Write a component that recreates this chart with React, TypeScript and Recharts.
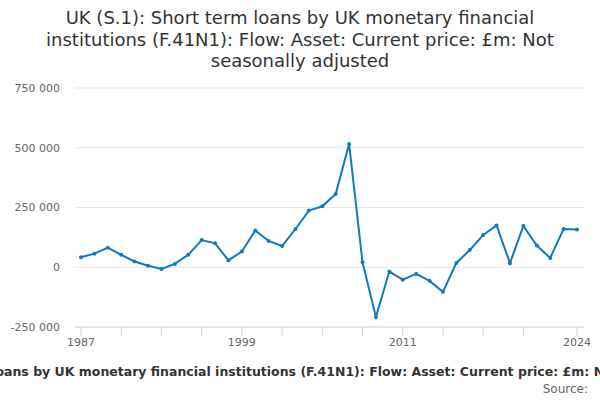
import React from "react";
import {
  LineChart,
  Line,
  XAxis,
  YAxis,
  CartesianGrid,
} from "recharts";

const years = [
  1987, 1988, 1989, 1990, 1991, 1992, 1993, 1994, 1995, 1996, 1997, 1998, 1999,
  2000, 2001, 2002, 2003, 2004, 2005, 2006, 2007, 2008, 2009, 2010, 2011, 2012,
  2013, 2014, 2015, 2016, 2017, 2018, 2019, 2020, 2021, 2022, 2023, 2024,
];

const loans = [
  42000, 57000, 82000, 52000, 24000, 6000, -7000, 14000, 52000, 114000, 100000,
  29000, 66000, 154000, 110000, 89000, 160000, 237000, 255000, 307000, 516000,
  21000, -208000, -18000, -52000, -28000, -57000, -103000, 18000, 72000, 135000,
  175000, 17000, 173000, 91000, 39000, 160000, 158000,
];

const xTicks = [
  1987, 1990, 1993, 1996, 1999, 2002, 2005, 2008, 2011, 2014, 2017, 2020, 2024,
];
const xLabels = [1987, 1999, 2011, 2024];
const yTicks = [-250000, 0, 250000, 500000, 750000];

const title =
  "UK (S.1): Short term loans by UK monetary financial institutions (F.41N1): Flow: Asset: Current price: £m: Not seasonally adjusted";

const data = years.map((year, i) => ({ year, value: loans[i] }));

const fmtY = (v: number) => {
  const s = Math.abs(v).toString().replace(/\B(?=(\d{3})+(?!\d))/g, " ");
  return v < 0 ? "-" + s : s;
};

export default function App() {
  return (
    <div
      style={{
        position: "fixed",
        left: 0,
        top: 0,
        width: 600,
        height: 400,
        overflow: "hidden",
        background: "#fff",
        fontFamily: "DejaVu Sans, sans-serif",
      }}
    >
      <div
        style={{
          position: "absolute",
          top: 7,
          left: 40,
          width: 520,
          textAlign: "center",
          fontSize: 18,
          lineHeight: "21.5px",
          color: "#333",
        }}
      >
        {title}
      </div>
      <LineChart
        width={600}
        height={400}
        data={data}
        margin={{ top: 88, right: 16, bottom: 43, left: 0 }}
      >
        <CartesianGrid vertical={false} stroke="#e6e6e6" />
        <XAxis
          dataKey="year"
          type="number"
          domain={[1987, 2024]}
          ticks={xTicks}
          interval={0}
          padding={{ left: 6, right: 7 }}
          tickFormatter={(v: number) => (xLabels.includes(v) ? String(v) : "")}
          stroke="#ccd6eb"
          tickSize={9}
          tickMargin={2}
          tick={{ fill: "#666", fontSize: 11 }}
        />
        <YAxis
          width={75}
          domain={[-250000, 750000]}
          ticks={yTicks}
          axisLine={false}
          tickLine={false}
          tickSize={0}
          tickMargin={15}
          tickFormatter={fmtY}
          tick={{ fill: "#666", fontSize: 11 }}
        />
        <Line
          dataKey="value"
          stroke="#0f7ac0"
          strokeWidth={2}
          dot={{ r: 2, fill: "#0f7ac0", stroke: "#0f7ac0", strokeWidth: 0 }}
          isAnimationActive={false}
        />
      </LineChart>
      <div
        style={{
          position: "absolute",
          top: 364,
          left: -297,
          width: 1200,
          textAlign: "center",
          whiteSpace: "nowrap",
          fontSize: 12.5,
          fontWeight: "bold",
          color: "#333",
        }}
      >
        {title}
      </div>
      <div
        style={{
          position: "absolute",
          top: 382,
          right: 12,
          fontSize: 12,
          color: "#666",
        }}
      >
        Source:
      </div>
    </div>
  );
}
